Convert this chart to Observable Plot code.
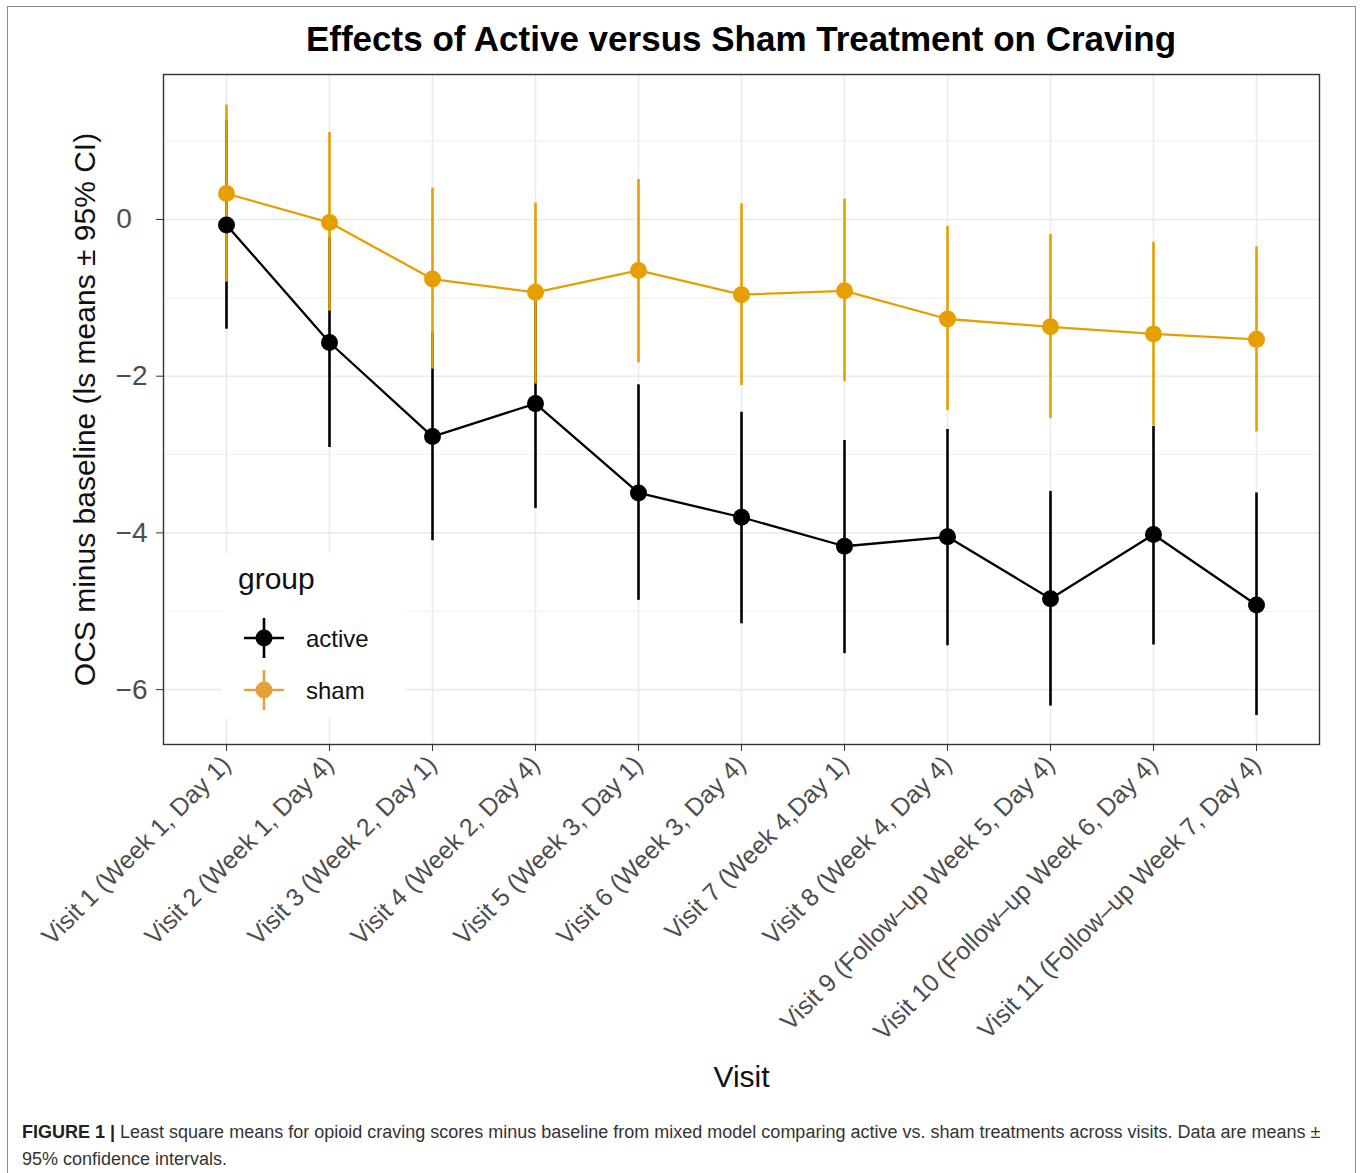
<!DOCTYPE html>
<html>
<head>
<meta charset="utf-8">
<script src="https://cdn.jsdelivr.net/npm/d3@7"></script>
<script src="https://cdn.jsdelivr.net/npm/@observablehq/plot@0.6"></script>
<style>
  body { margin: 0; background: #fff; font-family: "Liberation Sans", Arial, Helvetica, sans-serif; }
  #page { position: relative; width: 1360px; height: 1173px; overflow: hidden; background: #fff; }
  #frame { position: absolute; left: 7px; top: 6px; width: 1349px; height: 1220px; border: 1.5px solid #8c8c8c; box-sizing: border-box; pointer-events: none; }
  #title { margin-left: 163px; width: 1156px; padding-top: 20px; height: 38px; line-height: 38px; font-size: 35px; font-weight: bold; text-align: center; color: #000; white-space: nowrap; }
  #chart svg { display: block; }
  #caption { position: relative; padding: 12px 0 0 22px; font-size: 18px; line-height: 27px; color: #333; white-space: nowrap; }
  #caption b { color: #222; }
  #legend { position: absolute; left: 222px; top: 553px; }
</style>
</head>
<body>
<div id="page">
  <div id="frame"></div>
  <div id="title">Effects of Active versus Sham Treatment on Craving</div>
  <div id="chart"></div>
  <div id="caption"><b>FIGURE 1 |</b> Least square means for opioid craving scores minus baseline from mixed model comparing active vs. sham treatments across visits. Data are means ±<br>95% confidence intervals.</div>
  <div id="legend"></div>
</div>
<script>
// ---- data ----
const visits = [
  "Visit 1 (Week 1, Day 1)",
  "Visit 2 (Week 1, Day 4)",
  "Visit 3 (Week 2, Day 1)",
  "Visit 4 (Week 2, Day 4)",
  "Visit 5 (Week 3, Day 1)",
  "Visit 6 (Week 3, Day 4)",
  "Visit 7 (Week 4,Day 1)",
  "Visit 8 (Week 4, Day 4)",
  "Visit 9 (Follow–up Week 5, Day 4)",
  "Visit 10 (Follow–up Week 6, Day 4)",
  "Visit 11 (Follow–up Week 7, Day 4)"
];
const groups = ["active", "sham"];
const groupColors = ["#000000", "#E69F00"];

const activeMean = [-0.07, -1.57, -2.77, -2.35, -3.49, -3.80, -4.17, -4.05, -4.84, -4.02, -4.92];
const activeLow  = [-1.40, -2.91, -4.10, -3.69, -4.86, -5.16, -5.54, -5.44, -6.21, -5.43, -6.33];
const activeHigh = [ 1.26, -0.23, -1.44, -1.01, -2.11, -2.46, -2.82, -2.68, -3.47, -2.64, -3.49];

const shamMean = [ 0.33, -0.04, -0.76, -0.93, -0.65, -0.96, -0.91, -1.27, -1.37, -1.46, -1.53];
const shamLow  = [-0.80, -1.17, -1.91, -2.10, -1.83, -2.12, -2.07, -2.44, -2.54, -2.63, -2.71];
const shamHigh = [ 1.46,  1.11,  0.40,  0.21,  0.51,  0.20,  0.26, -0.09, -0.19, -0.29, -0.35];

const yMajorTicks = [-6, -4, -2, 0];
const yMinorTicks = [-5, -3, -1, 1];
const yDomain = [-6.70, 1.85];

const yTitle = "OCS minus baseline (ls means ± 95% CI)";
const xTitle = "Visit";
const legendTitle = "group";

// ---- build table ----
const active = visits.map((v, i) => ({visit: v, group: "active", mean: activeMean[i], lo: activeLow[i], hi: activeHigh[i]}));
const sham = visits.map((v, i) => ({visit: v, group: "sham", mean: shamMean[i], lo: shamLow[i], hi: shamHigh[i]}));
const all = active.concat(sham);

const fmtY = d => d === 0 ? "0\u2007" : (d < 0 ? "\u2212" : "") + Math.abs(d);

const chart = Plot.plot({
  width: 1360,
  height: 1049,
  marginTop: 16,
  marginLeft: 163,
  marginRight: 41,
  marginBottom: 363,
  style: {fontFamily: "'Liberation Sans', Arial, Helvetica, sans-serif", fontSize: "24px", background: "transparent", overflow: "visible"},
  x: {type: "point", domain: visits, padding: 0.58},
  y: {domain: yDomain},
  color: {domain: groups, range: groupColors},
  marks: [
    Plot.gridY(yMinorTicks, {stroke: "#ebebeb", strokeOpacity: 1, strokeWidth: 0.8}),
    Plot.gridY(yMajorTicks, {stroke: "#ebebeb", strokeOpacity: 1, strokeWidth: 1.6}),
    Plot.gridX(visits, {stroke: "#ebebeb", strokeOpacity: 1, strokeWidth: 1.6}),
    Plot.ruleX(active, {x: "visit", y1: "lo", y2: "hi", stroke: "group", strokeWidth: 2.6}),
    Plot.ruleX(sham, {x: "visit", y1: "lo", y2: "hi", stroke: "group", strokeWidth: 2.6}),
    Plot.line(active, {x: "visit", y: "mean", stroke: "group", strokeWidth: 2.3}),
    Plot.line(sham, {x: "visit", y: "mean", stroke: "group", strokeWidth: 2.3}),
    Plot.dot(all, {x: "visit", y: "mean", fill: "group", r: 8.5}),
    Plot.frame({stroke: "#333333", strokeWidth: 1.4}),
    Plot.axisY(yMajorTicks, {tickSize: 7, tickPadding: 9, tickFormat: fmtY, fontSize: 28, stroke: "#333333", fill: "#4d4d4d", label: null}),
    Plot.text([yTitle], {text: d => d, frameAnchor: "left", textAnchor: "middle", rotate: -90, dx: -90, lineAnchor: "top", fontSize: 30, fill: "#111"}),
    Plot.axisX({tickSize: 7, tickPadding: 9, tickRotate: -45, fontSize: 25, stroke: "#333333", fill: "#4d4d4d", label: null}),
    Plot.axisX({ticks: [], tickSize: 0, label: xTitle, labelAnchor: "center", labelOffset: 342, fontSize: 30, fill: "#111"})
  ]
});
document.getElementById("chart").appendChild(chart);

// ---- legend (inside panel, like ggplot's legend.position) ----
const lg = d3.select("#legend").append("svg").attr("width", 183).attr("height", 165);
lg.append("rect").attr("width", 183).attr("height", 165).attr("fill", "#fff");
lg.append("text").attr("x", 16).attr("y", 36).attr("font-size", 30).attr("fill", "#111")
  .attr("font-family", "'Liberation Sans', Arial, sans-serif").text(legendTitle);
const keyColors = ["#000000", "#E2A23A"];
groups.forEach((g, i) => {
  const cy = 85 + i * 52;
  const k = lg.append("g").attr("stroke", keyColors[i]);
  k.append("line").attr("x1", 22).attr("x2", 62).attr("y1", cy).attr("y2", cy).attr("stroke-width", 2.4);
  k.append("line").attr("x1", 42).attr("x2", 42).attr("y1", cy - 20).attr("y2", cy + 20).attr("stroke-width", 2.6);
  lg.append("circle").attr("cx", 42).attr("cy", cy).attr("r", 8.5).attr("fill", keyColors[i]);
  lg.append("text").attr("x", 84).attr("y", cy + 9).attr("font-size", 24).attr("fill", "#111")
    .attr("font-family", "'Liberation Sans', Arial, sans-serif").text(g);
});
</script>
</body>
</html>
